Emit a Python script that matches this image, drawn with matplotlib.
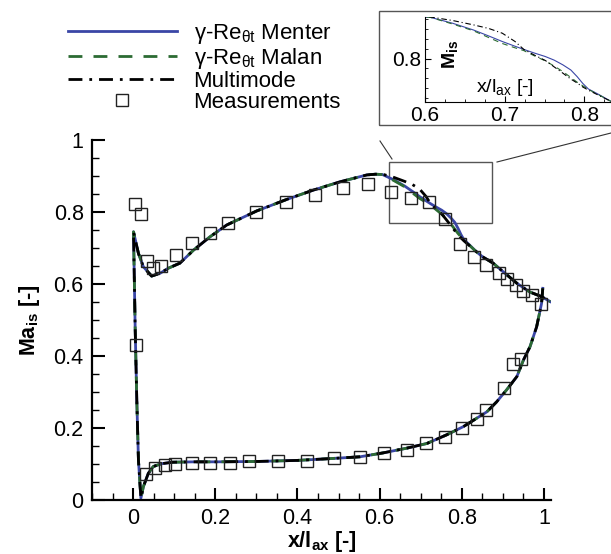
import numpy as np
import matplotlib
matplotlib.use('Agg')
import matplotlib.pyplot as plt
from matplotlib.patches import Rectangle
from matplotlib.lines import Line2D
from matplotlib.ticker import MultipleLocator

plt.rcParams['font.family'] = ['Liberation Sans', 'DejaVu Sans']
plt.rcParams['mathtext.fontset'] = 'custom'
plt.rcParams['mathtext.rm'] = 'Liberation Sans'
plt.rcParams['mathtext.it'] = 'Liberation Sans:italic'
plt.rcParams['mathtext.bf'] = 'Liberation Sans:bold'

# suction side, stagnation point -> trailing edge
ss_x_head = [0.019, 0.013, 0.009, 0.005, 0.001, 0.013, 0.025, 0.045, 0.066, 0.086,
             0.114, 0.147, 0.187, 0.228, 0.301, 0.374, 0.439, 0.504, 0.569]
ss_y_head = [0.005, 0.111, 0.278, 0.481, 0.745, 0.685, 0.648, 0.622, 0.630, 0.644,
             0.658, 0.694, 0.731, 0.764, 0.803, 0.835, 0.861, 0.884, 0.903]
ss_x_mid = [0.59, 0.607, 0.635, 0.661, 0.68, 0.697, 0.713, 0.724, 0.737, 0.751,
            0.762, 0.773, 0.783, 0.791, 0.798, 0.805, 0.819, 0.834, 0.85, 0.876]
menter_mid = [0.905, 0.904, 0.889, 0.872, 0.857, 0.843, 0.831, 0.823, 0.814, 0.805,
              0.796, 0.784, 0.771, 0.754, 0.737, 0.723, 0.708, 0.691, 0.676, 0.658]
malan_mid = [0.905, 0.904, 0.887, 0.870, 0.853, 0.838, 0.827, 0.820, 0.807, 0.794,
             0.781, 0.767, 0.752, 0.740, 0.731, 0.722, 0.707, 0.691, 0.676, 0.658]
multi_mid = [0.905, 0.905, 0.896, 0.885, 0.876, 0.864, 0.843, 0.823, 0.809, 0.795,
             0.779, 0.763, 0.748, 0.738, 0.728, 0.720, 0.706, 0.691, 0.676, 0.658]
ss_x_tail = [0.909, 0.934, 0.965, 0.994, 1.015]
ss_y_tail = [0.626, 0.602, 0.578, 0.565, 0.551]

# pressure side, stagnation point -> trailing edge
ps_x = [0.019, 0.025, 0.037, 0.049, 0.07, 0.097, 0.15, 0.2, 0.3, 0.4, 0.48, 0.552,
        0.609, 0.666, 0.715, 0.763, 0.804, 0.836, 0.861, 0.885, 0.909, 0.934, 0.95,
        0.966, 0.982, 0.994, 0.997]
ps_y = [0.005, 0.037, 0.074, 0.093, 0.101, 0.105, 0.106, 0.106, 0.107, 0.110, 0.115,
        0.120, 0.131, 0.144, 0.157, 0.181, 0.204, 0.227, 0.245, 0.273, 0.306, 0.343,
        0.389, 0.426, 0.481, 0.546, 0.588]

# measurements
meas_ss_x = [0.005, 0.019, 0.035, 0.049, 0.069, 0.105, 0.144, 0.187, 0.23, 0.30, 0.372,
             0.443, 0.51, 0.572, 0.628, 0.676, 0.72, 0.759, 0.796, 0.830, 0.860, 0.891,
             0.911, 0.931, 0.948, 0.97, 0.993]
meas_ss_y = [0.822, 0.794, 0.664, 0.645, 0.649, 0.681, 0.713, 0.743, 0.770, 0.80, 0.827,
             0.847, 0.866, 0.877, 0.855, 0.838, 0.829, 0.781, 0.710, 0.676, 0.653, 0.630,
             0.613, 0.597, 0.581, 0.569, 0.544]
meas_ps_x = [0.006, 0.032, 0.054, 0.078, 0.102, 0.144, 0.187, 0.235, 0.282, 0.352, 0.422,
             0.489, 0.552, 0.611, 0.666, 0.714, 0.759, 0.80, 0.836, 0.86, 0.903, 0.925,
             0.945]
meas_ps_y = [0.431, 0.072, 0.088, 0.097, 0.099, 0.102, 0.104, 0.104, 0.107, 0.107, 0.109,
             0.116, 0.12, 0.130, 0.139, 0.157, 0.176, 0.199, 0.225, 0.25, 0.31, 0.377,
             0.392]

labels = ['γ-Re$_\\mathregular{θt}$ Menter', 'γ-Re$_\\mathregular{θt}$ Malan',
          'Multimode', 'Measurements']
colors = ['#3a46a6', '#2c6b33', 'black']
styles = ['-', (0, (5, 4)), (0, (5, 2.5, 1, 2.5))]
mids = [menter_mid, malan_mid, multi_mid]
ticks = [0, 0.2, 0.4, 0.6, 0.8, 1.0]
tick_labels = ['0', '0.2', '0.4', '0.6', '0.8', '1']

zoom_box = (0.623, 0.769, 0.25, 0.17)

W, H = 611, 554
fig = plt.figure(figsize=(W / 100, H / 100), dpi=100)


def fx(px):
    return px / W


def fy(py):
    return 1 - py / H


ax = fig.add_axes([fx(92), fy(500), fx(551) - fx(92), fy(140) - fy(500)])

loop_x = ps_x[::-1] + ss_x_head + ss_x_mid + ss_x_tail
handles = []
for mid, c, ls, lab in zip(mids, colors, styles, labels[:3]):
    loop_y = ps_y[::-1] + ss_y_head + mid + ss_y_tail
    h, = ax.plot(loop_x, loop_y, color=c, ls=ls, lw=2, label=lab)
    handles.append(h)
m, = ax.plot(meas_ss_x + meas_ps_x, meas_ss_y + meas_ps_y, ls='none', marker='s',
             ms=8, mfc='none', mec='#222222', mew=1.0, label=labels[3])
handles.append(m)

ax.set_xlim(-0.1, 1.017)
ax.set_ylim(0, 1)
ax.set_xticks(ticks)
ax.set_xticklabels(tick_labels)
ax.set_yticks(ticks)
ax.set_yticklabels(tick_labels)
ax.xaxis.set_minor_locator(MultipleLocator(0.05))
ax.yaxis.set_minor_locator(MultipleLocator(0.05))
ax.tick_params(which='both', direction='in', labelsize=15.5, pad=6)
ax.tick_params(which='major', length=9, width=1.5)
ax.tick_params(which='minor', length=5, width=1.0)
for s in ['top', 'right']:
    ax.spines[s].set_visible(False)
for s in ['left', 'bottom']:
    ax.spines[s].set_linewidth(1.6)
ax.set_xlabel('x/l$_\\mathregular{ax}$ [-]', fontsize=15.5, fontweight='bold', labelpad=0)
ax.set_ylabel('Ma$_\\mathregular{is}$ [-]', fontsize=15.5, fontweight='bold', labelpad=8)

ax.add_patch(Rectangle(zoom_box[:2], zoom_box[2], zoom_box[3], fill=False,
                       ec='#555555', lw=1))

fig.legend(handles=handles, loc='upper left', bbox_to_anchor=(fx(68), fy(22)),
           frameon=False, fontsize=16, handlelength=4.9, handletextpad=0.75,
           labelspacing=0.0, borderpad=0, borderaxespad=0)

# inset frame and connector lines
fig.add_artist(Rectangle((fx(379), fy(125)), fx(240), fy(11) - fy(125), fill=False,
                         ec='#555555', lw=1, transform=fig.transFigure))
fig.add_artist(Line2D([fx(380), fx(392)], [fy(141), fy(159)], color='#333333', lw=0.8))
fig.add_artist(Line2D([fx(497), fx(611)], [fy(162), fy(133)], color='#333333', lw=0.8))

axi = fig.add_axes([fx(425), fy(102), fx(200), fy(17) - fy(102)])
for mid, c, ls in zip(mids, colors, styles):
    axi.plot(ss_x_mid, mid, color=c, ls=ls, lw=0.8)
axi.set_xlim(0.6, 0.851)
axi.set_ylim(0.69, 0.905)
axi.set_xticks([0.6, 0.7, 0.8])
axi.xaxis.set_minor_locator(MultipleLocator(0.025))
axi.set_yticks([0.8])
axi.yaxis.set_minor_locator(MultipleLocator(0.025))
axi.tick_params(which='both', direction='in', labelsize=15, pad=3)
axi.tick_params(which='major', length=4, width=0.8)
axi.tick_params(which='minor', length=2.5, width=0.6)
for s in ['top', 'right']:
    axi.spines[s].set_visible(False)
for s in ['left', 'bottom']:
    axi.spines[s].set_linewidth(0.8)
axi.text(fx(450), fy(54), 'M$_\\mathregular{is}$', transform=fig.transFigure,
         rotation=90, fontsize=14, fontweight='bold', ha='center', va='center')
axi.text(fx(505), fy(88), 'x/l$_\\mathregular{ax}$ [-]', transform=fig.transFigure,
         fontsize=14, ha='center', va='center')

fig.savefig('out.png', dpi=100)
